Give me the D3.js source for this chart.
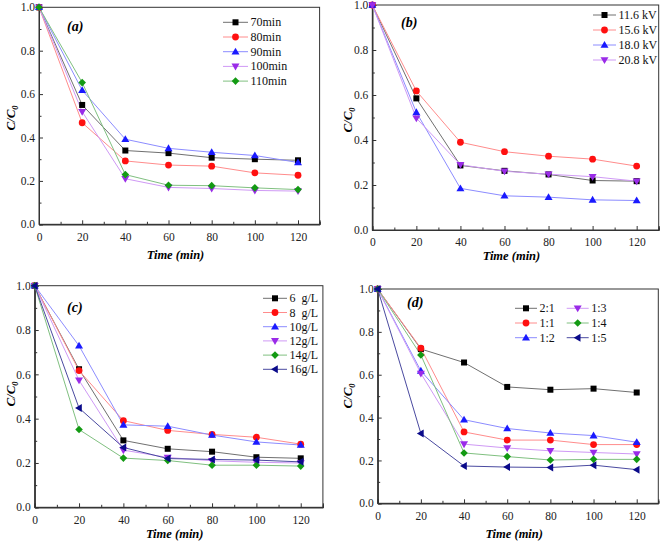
<!DOCTYPE html>
<html><head><meta charset="utf-8">
<script src="https://cdn.jsdelivr.net/npm/d3@7"></script>
<style>body{margin:0;background:#fff}svg{display:block}svg text{font-family:"Liberation Serif","Times New Roman",Times,"DejaVu Serif",serif !important}</style>
</head><body>
<svg id="c" width="661" height="543"></svg>
<script>
const times = [0, 20, 40, 60, 80, 100, 120];
const xTicks = [0, 20, 40, 60, 80, 100, 120];
const yTicks = [0.0, 0.2, 0.4, 0.6, 0.8, 1.0];

// panel (a)
const aNames = ["70min", "80min", "90min", "100min", "110min"];
const a70 = [1.0, 0.55, 0.34, 0.328, 0.307, 0.30, 0.295];
const a80 = [1.0, 0.468, 0.292, 0.273, 0.268, 0.237, 0.226];
const a90 = [1.0, 0.618, 0.392, 0.35, 0.332, 0.317, 0.285];
const a100 = [1.0, 0.519, 0.21, 0.17, 0.165, 0.156, 0.153];
const a110 = [1.0, 0.653, 0.229, 0.18, 0.178, 0.168, 0.16];

// panel (b)
const bNames = ["11.6 kV", "15.6 kV", "18.0 kV", "20.8 kV"];
const b116 = [1.0, 0.585, 0.287, 0.263, 0.247, 0.22, 0.217];
const b156 = [1.0, 0.618, 0.39, 0.348, 0.328, 0.315, 0.284];
const b180 = [1.0, 0.523, 0.185, 0.152, 0.146, 0.134, 0.131];
const b208 = [1.0, 0.497, 0.29, 0.261, 0.248, 0.237, 0.217];

// panel (c)
const cNames = ["6  g/L", "8  g/L", "10g/L", "12g/L", "14g/L", "16g/L"];
const c6 = [1.0, 0.623, 0.302, 0.264, 0.251, 0.226, 0.221];
const c8 = [1.0, 0.617, 0.391, 0.347, 0.329, 0.316, 0.285];
const c10 = [1.0, 0.729, 0.372, 0.366, 0.326, 0.295, 0.281];
const c12 = [1.0, 0.573, 0.258, 0.225, 0.21, 0.203, 0.2];
const c14 = [1.0, 0.351, 0.222, 0.211, 0.19, 0.19, 0.186];
const c16 = [1.0, 0.448, 0.27, 0.22, 0.216, 0.213, 0.205];

// panel (d)
const dNames = ["2:1", "1:1", "1:2", "1:3", "1:4", "1:5"];
const d21 = [1.0, 0.72, 0.657, 0.543, 0.53, 0.535, 0.517];
const d11 = [1.0, 0.724, 0.333, 0.295, 0.295, 0.274, 0.274];
const d12 = [1.0, 0.618, 0.39, 0.349, 0.328, 0.316, 0.285];
const d13 = [1.0, 0.606, 0.276, 0.258, 0.245, 0.237, 0.23];
const d14 = [1.0, 0.692, 0.235, 0.218, 0.202, 0.205, 0.205];
const d15 = [1.0, 0.326, 0.174, 0.169, 0.167, 0.178, 0.157];

const styles = [
  {mk: "#000000", ln: "#707070", sym: "square"},
  {mk: "#ff1010", ln: "#ff8c8c", sym: "circle"},
  {mk: "#1a1aff", ln: "#8c8cff", sym: "up"},
  {mk: "#9a2be8", ln: "#cf99f5", sym: "down"},
  {mk: "#139a13", ln: "#80c080", sym: "diamond"},
  {mk: "#0a0a8a", ln: "#4a4aa0", sym: "left"}
];

const svg = d3.select("#c");

function marker(g, sym, x, y, color) {
  const s = 3;
  let path;
  if (sym === "square") {
    g.append("rect").attr("x", x - s).attr("y", y - s).attr("width", 2 * s).attr("height", 2 * s).attr("fill", color);
    return;
  }
  if (sym === "circle") {
    g.append("circle").attr("cx", x).attr("cy", y).attr("r", 3.4).attr("fill", color);
    return;
  }
  const t = 4;
  if (sym === "up") path = [[x, y - t], [x + t, y + t * 0.7], [x - t, y + t * 0.7]];
  if (sym === "down") path = [[x, y + t], [x + t, y - t * 0.7], [x - t, y - t * 0.7]];
  if (sym === "left") path = [[x - t, y], [x + t * 0.7, y - t], [x + t * 0.7, y + t]];
  if (sym === "diamond") path = [[x, y - 3.8], [x + 3.8, y], [x, y + 3.8], [x - 3.8, y]];
  g.append("path").attr("d", "M" + path.map(p => p.join(",")).join("L") + "Z").attr("fill", color);
}

function panel(cfg) {
  const x = d3.scaleLinear().domain([0, 130]).range([cfg.x0, cfg.x1]);
  const y = d3.scaleLinear().domain([0, 1]).range([cfg.y0, cfg.y1]);
  const g = svg.append("g");
  g.append("rect").attr("x", cfg.x0).attr("y", cfg.y1).attr("width", cfg.x1 - cfg.x0).attr("height", cfg.y0 - cfg.y1)
    .attr("fill", "none").attr("stroke", "#333").attr("stroke-width", 1);
  const xa = g.append("g").attr("transform", `translate(0,${cfg.y0})`)
    .call(d3.axisBottom(x).tickValues(xTicks).tickSize(-4).tickPadding(6).tickFormat(d3.format("d")));
  const xm = g.append("g").attr("transform", `translate(0,${cfg.y0})`)
    .call(d3.axisBottom(x).tickValues([10, 30, 50, 70, 90, 110, 130]).tickSize(-2.5).tickFormat(""));
  const ya = g.append("g").attr("transform", `translate(${cfg.x0},0)`)
    .call(d3.axisLeft(y).tickValues(yTicks).tickSize(-4).tickPadding(4).tickFormat(d3.format(".1f")));
  const ym = g.append("g").attr("transform", `translate(${cfg.x0},0)`)
    .call(d3.axisLeft(y).tickValues([0.1, 0.3, 0.5, 0.7, 0.9]).tickSize(-2.5).tickFormat(""));
  [xa, xm, ya, ym].forEach(a => {
    a.attr("font-family", null);
    a.select(".domain").attr("stroke", "#333");
    a.selectAll(".tick line").attr("stroke", "#333");
    a.selectAll("text").attr("font-size", 11.5).attr("fill", "#222");
  });
  xa.selectAll("text").attr("dy", "0.9em");
  g.append("text").attr("x", (cfg.x0 + x(120) + 10) / 2 + 2).attr("y", cfg.xtY).attr("text-anchor", "middle")
    .attr("font-size", 12.5).attr("font-weight", "bold").attr("font-style", "italic").text("Time (min)");
  const yt = g.append("text").attr("transform", `translate(${cfg.ytX},${cfg.ytY}) rotate(-90)`).attr("text-anchor", "middle")
    .attr("font-size", 13).attr("font-weight", "bold").attr("font-style", "italic");
  yt.append("tspan").text("C/C");
  yt.append("tspan").attr("font-size", 8.5).attr("dy", 3).text("0");
  g.append("text").attr("x", cfg.tagX).attr("y", cfg.tagY).attr("font-size", 14).attr("font-weight", "bold")
    .attr("font-style", "italic").text(cfg.tag);
  const line = d3.line().x((d, i) => x(times[i])).y(d => y(d));
  cfg.series.forEach((s, k) => {
    const st = styles[k];
    g.append("path").attr("d", line(s)).attr("fill", "none").attr("stroke", st.ln).attr("stroke-width", 1);
  });
  cfg.series.forEach((s, k) => {
    const st = styles[k];
    s.forEach((v, i) => marker(g, st.sym, x(times[i]), y(v), st.mk));
  });
  cfg.names.forEach((n, k) => {
    const st = styles[k];
    const col = cfg.cols ? Math.floor(k / cfg.cols.rows) : 0;
    const row = cfg.cols ? k % cfg.cols.rows : k;
    const lx = cfg.lx[col], ly = cfg.ly + row * cfg.ldy;
    g.append("line").attr("x1", lx).attr("x2", lx + cfg.lw).attr("y1", ly).attr("y2", ly).attr("stroke", st.ln).attr("stroke-width", 1);
    marker(g, st.sym, lx + cfg.lw / 2, ly, st.mk);
    g.append("text").attr("x", lx + cfg.lw + 2.5).attr("y", ly + 4).attr("font-size", 12).attr("fill", "#111")
      .style("white-space", "pre").attr("xml:space", "preserve").text(n);
  });
}

panel({x0: 39, x1: 319.6, y0: 224.3, y1: 7.3, xtY: 259, ytX: 15, ytY: 118, tag: "(a)", tagX: 67, tagY: 31,
  series: [a70, a80, a90, a100, a110], names: aNames, lx: [223], ly: 22.3, ldy: 14.7, lw: 25});
panel({x0: 372.3, x1: 658.7, y0: 230, y1: 5, xtY: 260, ytX: 352, ytY: 120, tag: "(b)", tagX: 401, tagY: 27,
  series: [b116, b156, b180, b208], names: bNames, lx: [593], ly: 15, ldy: 15, lw: 23});
panel({x0: 34.7, x1: 322.9, y0: 507.3, y1: 285.7, xtY: 538, ytX: 15, ytY: 394, tag: "(c)", tagX: 67, tagY: 312,
  series: [c6, c8, c10, c12, c14, c16], names: cNames, lx: [263], ly: 298.3, ldy: 14.2, lw: 24});
panel({x0: 377.7, x1: 658.3, y0: 503.3, y1: 289, xtY: 538, ytX: 352, ytY: 396, tag: "(d)", tagX: 407, tagY: 307,
  series: [d21, d11, d12, d13, d14, d15], names: dNames, lx: [515, 566.7], ly: 308.3, ldy: 14.7, lw: 22, cols: {rows: 3}});
</script>
</body></html>
